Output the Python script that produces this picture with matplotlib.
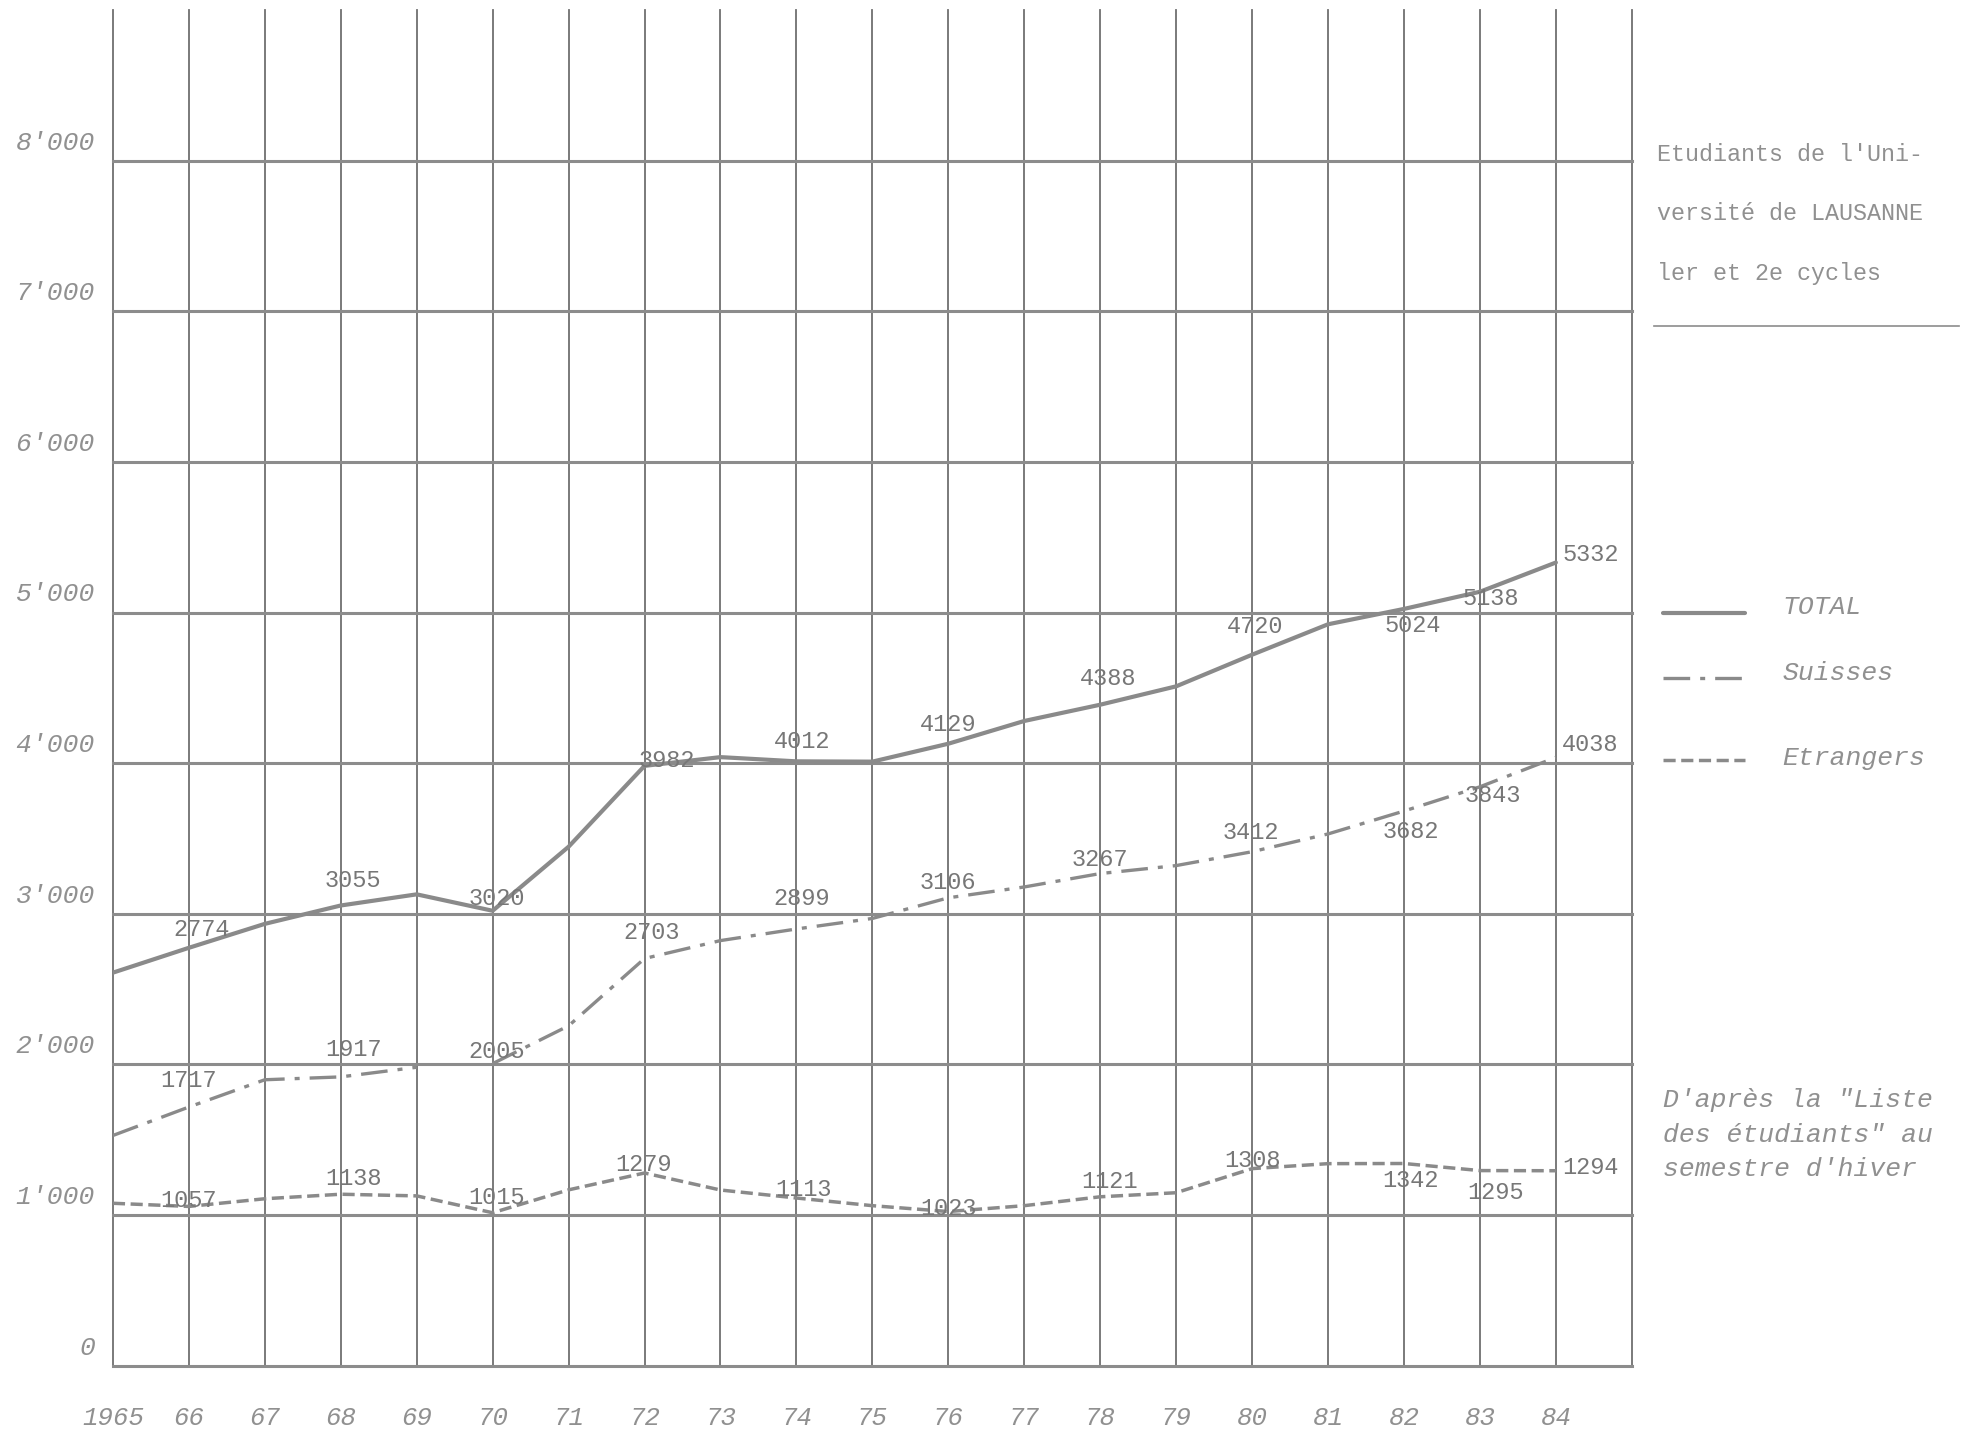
import matplotlib
matplotlib.use("Agg")
import matplotlib.pyplot as plt
from matplotlib.lines import Line2D

# ------------------------------------------------------------
# Data: students at the University of Lausanne (1st + 2nd cycles)
# ------------------------------------------------------------
years = list(range(1965, 1985))
total = [2609, 2774, 2933, 3055, 3129, 3020, 3445, 3982, 4040, 4012,
         4010, 4129, 4280, 4388, 4510, 4720, 4922, 5024, 5138, 5332]
suisses = [1528, 1717, 1898, 1917, 1981, 2005, 2256, 2703, 2822, 2899,
           2969, 3106, 3178, 3267, 3320, 3412, 3530, 3682, 3843, 4038]
etrangers = [1078, 1057, 1108, 1138, 1127, 1015, 1167, 1279, 1166, 1113,
             1062, 1023, 1062, 1121, 1148, 1308, 1341, 1342, 1295, 1294]

labelled_years = [1966, 1968, 1970, 1972, 1974, 1976, 1978, 1980, 1982, 1983, 1984]
year_labels = ["1965", "66", "67", "68", "69", "70", "71", "72", "73", "74",
               "75", "76", "77", "78", "79", "80", "81", "82", "83", "84"]
y_levels = [0, 1000, 2000, 3000, 4000, 5000, 6000, 7000, 8000]
y_labels = ["0", "1'000", "2'000", "3'000", "4'000", "5'000", "6'000", "7'000", "8'000"]

# label offsets (points) per labelled year, per series
off_total = [(9, 13), (9, 18), (3, 9), (16, 4), (4, 14), (0, 14), (6, 19), (2, 20), (6, -12), (8, -5), (25, 6)]
off_suisses = [(0, 19), (9, 20), (3, 9), (5, 19), (4, 22), (0, 11), (0, 10), (-1, 14), (5, -15), (9, -6), (25, 9)]
off_etr = [(0, 4), (9, 11), (3, 11), (-1, 6), (5, 6), (0, 2), (7, 11), (0, 6), (5, -12), (11, -16), (25, 2)]

LINE_C = "#8a8a8a"
GRID_V = "#6f6f6f"
GRID_H = "#8c8c8c"
TXT = "#777777"
TXT_L = "#909090"
MONO = "Liberation Mono"

style_total = dict(color=LINE_C, lw=3.0, ls="-", solid_capstyle="round")
style_suisses = dict(color=LINE_C, lw=2.4, ls=(0, (8, 3, 1.5, 3)))
style_etr = dict(color=LINE_C, lw=2.5, ls=(0, (3.5, 1.6)))

fig = plt.figure(figsize=(19.67, 14.36), dpi=100)
ax = fig.add_axes([0.0574, 0.049, 0.7722, 0.944])
ax.set_xlim(1965, 1985)
ax.set_ylim(0, 9000)
for s in ax.spines.values():
    s.set_visible(False)

# grid
for yr in range(1965, 1986):
    ax.axvline(yr, color=GRID_V, lw=1.3, zorder=1, clip_on=False)
for v in y_levels:
    ax.axhline(v, color=GRID_H, lw=2.2, zorder=1, clip_on=False)

# series (Suisses drawn in two pieces, broken between 69 and 70)
ax.plot(years, total, zorder=3, **style_total)
ax.plot(years[:5], suisses[:5], zorder=3, **style_suisses)
ax.plot(years[5:], suisses[5:], zorder=3, **style_suisses)
ax.plot(years, etrangers, zorder=3, **style_etr)

# value labels
for series, offs in [(total, off_total), (suisses, off_suisses), (etrangers, off_etr)]:
    for yr, (dx, dy) in zip(labelled_years, offs):
        v = series[years.index(yr)]
        ax.annotate(str(v), (yr, v), xytext=(dx, dy), textcoords="offset points",
                    ha="center", va="center", fontsize=17, family=MONO, color=TXT, zorder=4)

# axes labels
ax.set_xticks(years)
ax.set_xticklabels(year_labels, family=MONO, style="italic", fontsize=18.5, color=TXT_L)
ax.tick_params(axis="x", length=0, pad=29)
ax.set_yticks([])
for v, lab in zip(y_levels, y_labels):
    ax.annotate(lab, (0, v), xycoords=ax.get_yaxis_transform(), xytext=(-13, 13),
                textcoords="offset points", ha="right", va="center",
                fontsize=19, family=MONO, style="italic", color=TXT_L)

# title block on the right
for txt, y in [("Etudiants de l'Uni-", 0.8925), ("versité de LAUSANNE", 0.8514),
               ("ler et 2e cycles", 0.8094)]:
    fig.text(0.8424, y, txt, fontsize=16.8, family=MONO, color=TXT_L, va="center")
fig.add_artist(Line2D([0.841, 0.996], [0.7727, 0.7727], color=GRID_H, lw=1.2))

# legend
for lab, st, yl, yt in [("TOTAL", style_total, 0.5734, 0.577),
                        ("Suisses", style_suisses, 0.528, 0.531),
                        ("Etrangers", style_etr, 0.471, 0.472)]:
    fig.add_artist(Line2D([0.8456, 0.887], [yl, yl], **st))
    fig.text(0.906, yt, lab, fontsize=19, family=MONO, style="italic", color=TXT_L, va="center")

# source note
for txt, y in [("D'après la \"Liste", 0.2343), ("des étudiants\" au", 0.2098),
               ("semestre d'hiver", 0.1862)]:
    fig.text(0.8456, y, txt, fontsize=19, family=MONO, style="italic", color=TXT_L, va="center")

fig.savefig("out.png", dpi=100)
